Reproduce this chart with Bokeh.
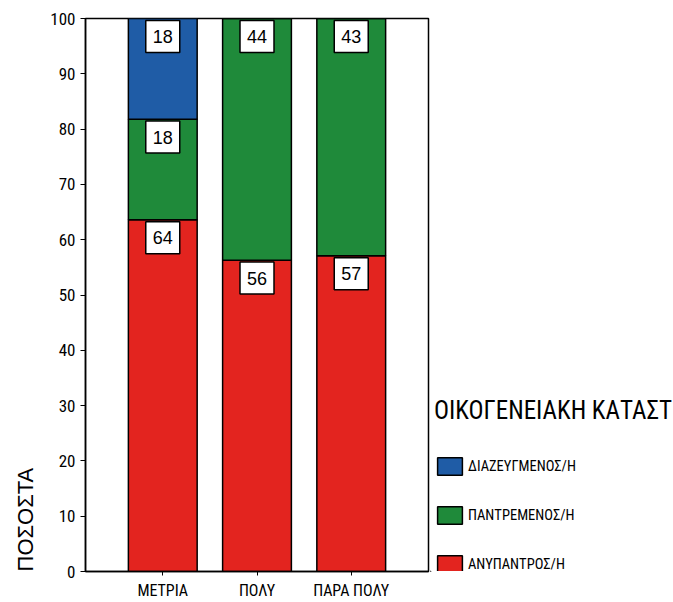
from bokeh.plotting import figure
from bokeh.layouts import row
from bokeh.models import (Range1d, FixedTicker, Legend, LegendItem, ColumnDataSource, Title)
from bokeh.core.properties import value
from bokeh.embed import file_html
from bokeh.resources import INLINE

categories = ["ΜΕΤΡΙΑ", "ΠΟΛΥ", "ΠΑΡΑ ΠΟΛΥ"]
anypantros = [63.6, 56.3, 57.1]
pantremenos = [18.2, 43.7, 42.9]
diazeugmenos = [18.2, 0.0, 0.0]
series_names = ["ΑΝΥΠΑΝΤΡΟΣ/Η", "ΠΑΝΤΡΕΜΕΝΟΣ/Η", "ΔΙΑΖΕΥΓΜΕΝΟΣ/Η"]
legend_title = "ΟΙΚΟΓΕΝΕΙΑΚΗ ΚΑΤΑΣΤ"
y_ticks = [0, 10, 20, 30, 40, 50, 60, 70, 80, 90, 100]

RED, GREEN, BLUE = "#e3241f", "#1f8a3a", "#1f5ca6"
COLORS = [RED, GREEN, BLUE]
FONT = "Roboto Condensed"

# layout constants
FRAME_H = 556
TOP, BOTTOM, LEFT, RIGHT = 18, 28, 85, 2
FRAME_W = 343
Y0, Y1 = 0, 100

xs = [1, 2, 3]
src = ColumnDataSource(dict(x=xs, a=anypantros, p=pantremenos, d=diazeugmenos))

p = figure(width=LEFT + FRAME_W + RIGHT, height=TOP + FRAME_H + BOTTOM,
           output_backend="svg", toolbar_location=None,
           x_range=Range1d(0.18, 3.82), y_range=Range1d(Y0, Y1),
           min_border_left=LEFT, min_border_right=RIGHT, min_border_top=TOP,
           min_border_bottom=BOTTOM)
p.background_fill_color = "white"
p.border_fill_color = "white"
p.outline_line_color = "black"
p.outline_line_width = 1.5
p.xgrid.visible = False
p.ygrid.visible = False

rs = p.vbar_stack(["a", "p", "d"], x="x", width=0.73, source=src,
                  fill_color=COLORS, line_color="black", line_width=1.5)

# value boxes just below the top of each segment
px = (Y1 - Y0) / FRAME_H   # data units per pixel
BOX_W, BOX_H, GAP = 34, 32, 2
lx, ly, lt = [], [], []
for i, x in enumerate(xs):
    base = 0.0
    for v in (anypantros[i], pantremenos[i], diazeugmenos[i]):
        if v > 0:
            lx.append(x)
            ly.append(base + v - (GAP + BOX_H / 2) * px)
            lt.append(str(int(round(v))))
        base += v
lsrc = ColumnDataSource(dict(x=lx, y=ly, t=lt))
p.rect(x="x", y="y", width=BOX_W, height=BOX_H, width_units="screen", height_units="screen",
       source=lsrc, fill_color="white", line_color="black", line_width=1.5)
p.text(x="x", y="y", text="t", source=lsrc, text_align="center", text_baseline="middle",
       text_font=value("Liberation Sans"), text_font_size="18px", text_color="black")

# axes
p.yaxis.ticker = FixedTicker(ticks=y_ticks)
p.yaxis.major_tick_out = 5
p.yaxis.major_tick_in = 0
p.yaxis.minor_tick_line_color = None
p.yaxis.major_label_standoff = 5
p.yaxis.major_label_text_font = FONT
p.yaxis.major_label_text_font_size = "17px"
p.yaxis.major_label_text_color = "black"
p.yaxis.axis_line_width = 1.5

p.xaxis.ticker = FixedTicker(ticks=xs)
p.xaxis.major_label_overrides = {x: c for x, c in zip(xs, categories)}
p.xaxis.major_tick_out = 4
p.xaxis.major_tick_in = 0
p.xaxis.minor_tick_line_color = None
p.xaxis.major_label_standoff = 5
p.xaxis.major_label_text_font = FONT
p.xaxis.major_label_text_font_size = "16px"
p.xaxis.major_label_text_color = "black"
p.xaxis.axis_line_width = 1.5

p.add_layout(Title(text="ΠΟΣΟΣΤΑ", align="left", text_font="Liberation Sans", text_font_size="22px",
                   text_font_style="normal", text_color="black", standoff=20), "left")

# legend in its own panel figure
LEG_W = 673 - (LEFT + FRAME_W + RIGHT)
lf = figure(width=LEG_W, height=TOP + FRAME_H + BOTTOM, output_backend="svg",
            toolbar_location=None, x_range=Range1d(0, 1), y_range=Range1d(0, 1),
            x_axis_location=None, y_axis_location=None, min_border=0)
lf.outline_line_color = None
lf.grid.visible = False
# off-range placeholder glyphs that only supply the legend swatches
dummies = [lf.vbar(x=[-10], top=[-10], width=1, fill_color=c, line_color="black", line_width=1.5)
           for c in COLORS]

legend = Legend(items=[LegendItem(label=series_names[2], renderers=[dummies[2]]),
                       LegendItem(label=series_names[1], renderers=[dummies[1]]),
                       LegendItem(label=series_names[0], renderers=[dummies[0]])],
                location=(4, -4), title=legend_title,
                title_text_font=FONT, title_text_font_size="25px", title_text_font_style="normal",
                title_text_color="black", title_standoff=30,
                label_text_font=FONT, label_text_font_size="14.5px", label_text_color="black",
                glyph_width=31, glyph_height=22, label_height=22, spacing=27,
                label_standoff=3, margin=0, padding=5,
                border_line_color=None, background_fill_alpha=0)
lf.add_layout(legend, "center")

layout = row(p, lf, spacing=0)
open("out.html", "w").write(file_html(layout, INLINE))
